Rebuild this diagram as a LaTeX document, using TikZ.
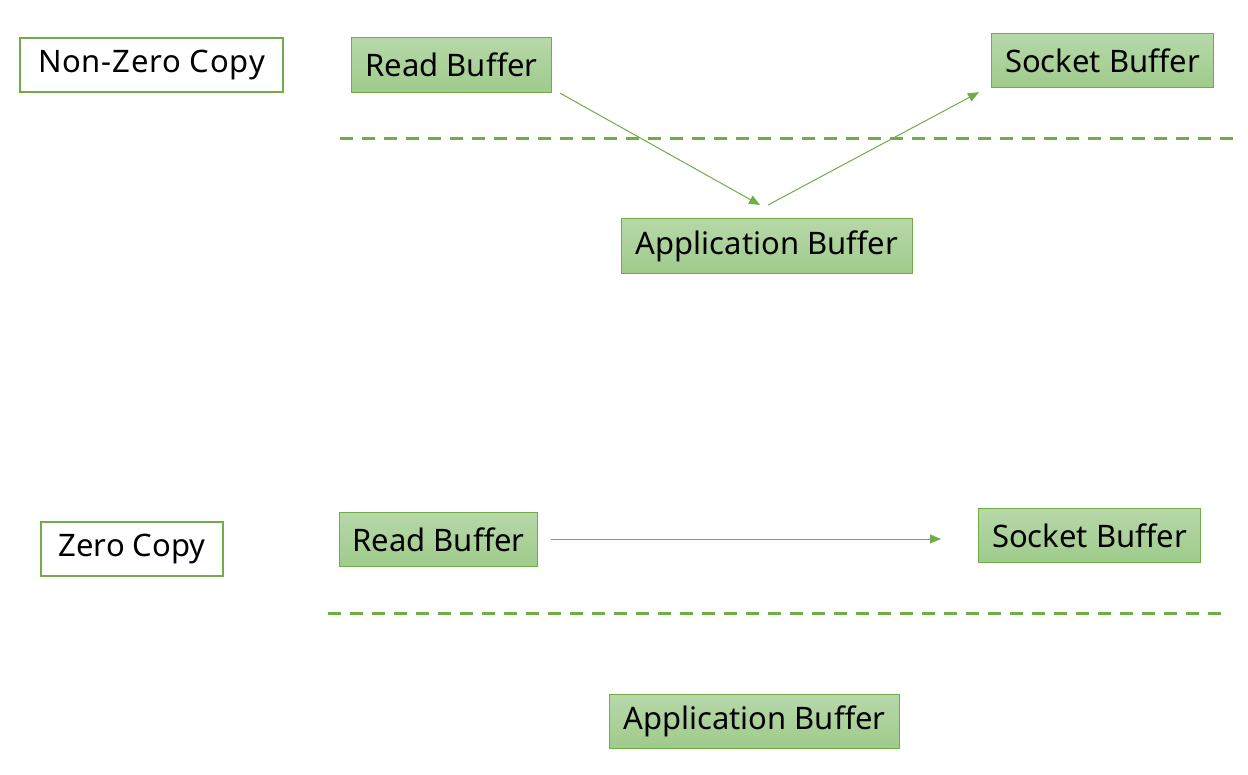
\documentclass[tikz,border=0pt]{standalone}
\usepackage{fontspec}
\setmainfont{Noto Sans}
\usetikzlibrary{arrows.meta,calc}
\definecolor{gborder}{HTML}{70AD47}
\definecolor{gtop}{HTML}{B7D8A9}
\definecolor{gbot}{HTML}{9FCB8B}
\tikzset{
  buf/.style={draw=gborder,line width=1.2pt,top color=gtop,bottom color=gbot,
    anchor=north west,inner sep=0pt,font=\fontsize{31}{36}\selectfont,text=black},
  lbl/.style={draw=gborder,line width=2pt,fill=white,
    anchor=north west,inner sep=0pt,font=\fontsize{31}{36}\selectfont,text=black},
  sep/.style={draw=gborder,line width=3pt,dash pattern=on 13pt off 9pt},
  flow/.style={draw=gborder,line width=1pt,-{Triangle[length=11pt,width=9pt]}}
}
\begin{document}
\begin{tikzpicture}[x=1pt,y=-1pt]
\useasboundingbox (0,0) rectangle (1248,774);
% top part
\node[lbl,minimum width=263pt,minimum height=54pt] (nzc) at (19,37) {\addfontfeature{LetterSpace=2.5}Non-Zero Copy};
\node[buf,minimum width=200pt,minimum height=55pt] (rb1) at (351,37) {Read Buffer};
\node[buf,minimum width=222pt,minimum height=54pt] (sb1) at (991,33) {Socket Buffer};
\node[buf,minimum width=291pt,minimum height=55pt] (ab1) at (621,218) {Application Buffer};
\coordinate (d1a) at (340,138);
\coordinate (d1b) at (1234,138);
\draw[sep] (d1a) -- (d1b);
\coordinate (a1s) at ($(rb1.south east)+(8,0)$);
\coordinate (a1e) at (760,205);
\coordinate (a2s) at (768,205);
\coordinate (a2e) at ($(sb1.south west)+(-12,4)$);
\draw[flow] (a1s) -- (a1e);
\draw[flow] (a2s) -- (a2e);
% bottom part
\node[lbl,minimum width=182pt,minimum height=54pt] (zc) at (40,521) {Zero Copy};
\node[buf,minimum width=198pt,minimum height=54pt] (rb2) at (339,512) {Read Buffer};
\node[buf,minimum width=222pt,minimum height=54pt] (sb2) at (978,508) {Socket Buffer};
\node[buf,minimum width=290pt,minimum height=54pt] (ab2) at (609,694) {Application Buffer};
\coordinate (d2a) at (328,613);
\coordinate (d2b) at (1222,613);
\draw[sep] (d2a) -- (d2b);
\coordinate (a3s) at (551,539);
\coordinate (a3e) at (941,539);
\draw[flow] (a3s) -- (a3e);
\end{tikzpicture}
\end{document}
